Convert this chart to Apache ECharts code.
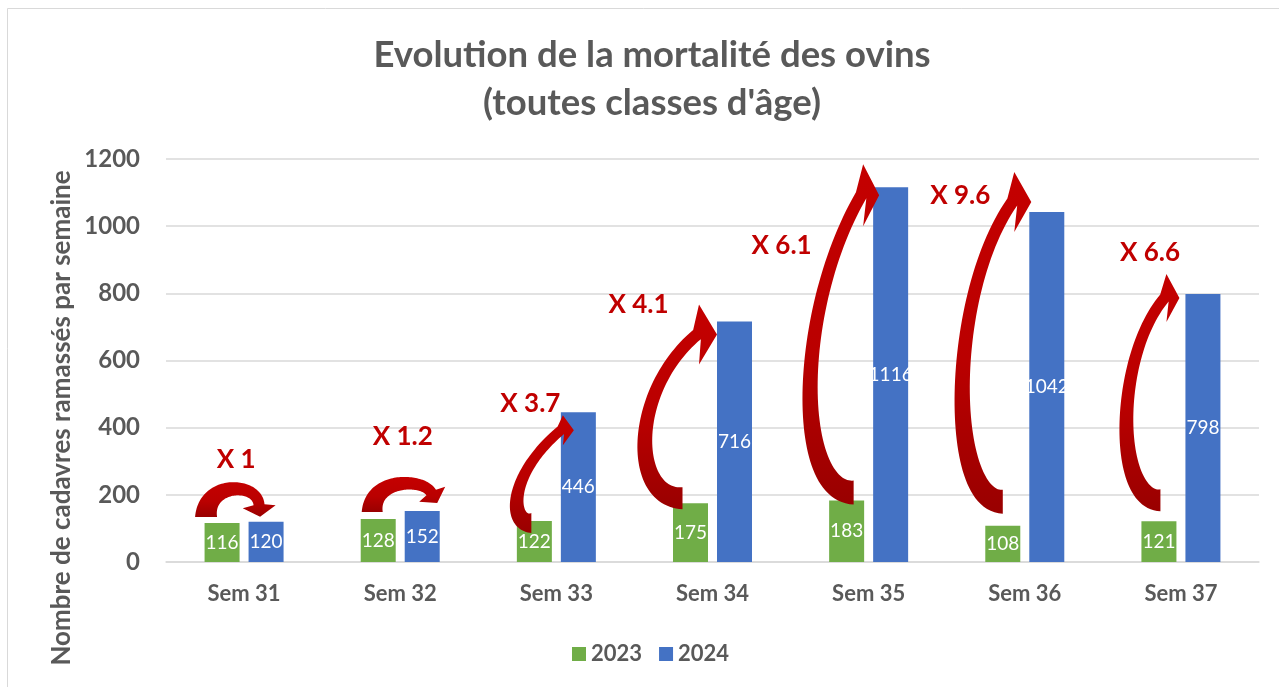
<!DOCTYPE html>
<html>
<head>
<meta charset="utf-8">
<script src="https://cdn.jsdelivr.net/npm/echarts@6/dist/echarts.min.js"></script>
<style>
  html, body { margin: 0; padding: 0; background: #ffffff; }
  #chart { width: 1279px; height: 687px; }
</style>
</head>
<body>
<div id="chart"></div>
<script>
// ---- data ----
const categories = ['Sem 31', 'Sem 32', 'Sem 33', 'Sem 34', 'Sem 35', 'Sem 36', 'Sem 37'];
const deaths2023 = [116, 128, 122, 175, 183, 108, 121];
const deaths2024 = [120, 152, 446, 716, 1116, 1042, 798];
const ratioLabels = ['X 1', 'X 1.2', 'X 3.7', 'X 4.1', 'X 6.1', 'X 9.6', 'X 6.6'];
const seriesNames = ['2023', '2024'];
const yMin = 0, yMax = 1200, yStep = 200;

// ---- annotation layout (pixel offsets relative to the bars) ----
const arrowLayout = [
  { kind: 'arch', tail: [-16, -6], tip: [-6, -5], phi: 5, rise: 28, hw: 16.5, hl: 10, wTail: 22, wNeck: 11, label: [-8, -62] },
  { kind: 'arch', tail: [-6, -7], tip: [15, -8], phi: 30, rise: 28, hw: 15, hl: 10, wTail: 21, wNeck: 11, label: [2.5, -74] },
  { kind: 'c', tail: [-3, 2], tip: [13, 18], bulge: -1, theta: 40, hw: 15, hl: 11, wTail: 20, wNeck: 10, label: [-26, -9] },
  { kind: 'c', tail: [-8, -5], tip: [0, 13], bulge: 28, theta: 40, hw: 30, hl: 18, wTail: 22, wNeck: 12, label: [-74, -17] },
  { kind: 'c', tail: [7, -8], tip: [6, 8], bulge: 19, theta: 60, hw: 31, hl: 16, wTail: 24, wNeck: 12, label: [-87, 58] },
  { kind: 'c', tail: [0, -24], tip: [2, -10], bulge: 23, theta: 55, hw: 30, hl: 17, wTail: 24, wNeck: 12, label: [-64.5, -16] },
  { kind: 'c', tail: [1.5, -21], tip: [-6, 4], bulge: 15, theta: 50, hw: 24, hl: 13, wTail: 22, wNeck: 11, label: [-31, -41] }
];

const BAR_W = 35, BAR_GAP = 9;
const OFF = (BAR_W + BAR_GAP) / 2;
const FONT = 'Lato, "Open Sans", sans-serif';
const GREY = '#595959';

function bez(p, t) {
  const u = 1 - t;
  const a = u * u * u, b = 3 * u * u * t, c = 3 * u * t * t, d = t * t * t;
  return [a * p[0][0] + b * p[1][0] + c * p[2][0] + d * p[3][0],
          a * p[0][1] + b * p[1][1] + c * p[2][1] + d * p[3][1]];
}
function bezD(p, t) {
  const u = 1 - t;
  const x = 3 * u * u * (p[1][0] - p[0][0]) + 6 * u * t * (p[2][0] - p[1][0]) + 3 * t * t * (p[3][0] - p[2][0]);
  const y = 3 * u * u * (p[1][1] - p[0][1]) + 6 * u * t * (p[2][1] - p[1][1]) + 3 * t * t * (p[3][1] - p[2][1]);
  const l = Math.hypot(x, y) || 1;
  return [x / l, y / l];
}
function dist(a, b) { return Math.hypot(a[0] - b[0], a[1] - b[1]); }

function arrowPolygon(ctrl, wTail, wNeck, cornerA, tip, cornerB) {
  const n = 60, sa = [], sb = [];
  for (let k = 0; k <= n; k++) {
    const t = k / n;
    const p = bez(ctrl, t), d = bezD(ctrl, t);
    const nr = [-d[1], d[0]];
    const w = (wNeck + (wTail - wNeck) * (1 - t) * (1 - t)) / 2;
    sa.push([p[0] + nr[0] * w, p[1] + nr[1] * w]);
    sb.push([p[0] - nr[0] * w, p[1] - nr[1] * w]);
  }
  const ea = sa[n], eb = sb[n];
  let c1 = cornerA, c2 = cornerB;
  if (dist(ea, c1) + dist(eb, c2) > dist(ea, c2) + dist(eb, c1)) { c1 = cornerB; c2 = cornerA; }
  return sa.concat([c1, tip, c2], sb.reverse());
}

function renderArrow(params, api) {
  const i = api.value(0);
  const g = api.value(1), b = api.value(2);
  const L = arrowLayout[i];
  const base = api.coord([i, 0]);
  const cx = base[0];
  const gt = api.coord([i, g])[1];
  const bt = api.coord([i, b])[1];
  const gc = cx - OFF, bc = cx + OFF;
  const gl = gc - BAR_W / 2, bl = bc - BAR_W / 2;
  let ctrl, S, H, I;
  if (L.kind === 'arch') {
    const T = [gc + L.tail[0], gt + L.tail[1]];
    H = [bc + L.tip[0], bt + L.tip[1]];
    const ph = L.phi * Math.PI / 180;
    const d = [Math.sin(ph), Math.cos(ph)];
    const B = [H[0] - d[0] * L.hl, H[1] - d[1] * L.hl];
    const N = [B[0] - d[0] * 2, B[1] - d[1] * 2];
    const Y = (8 * (T[1] - L.rise) - T[1] - N[1]) / 6;
    const P1 = [T[0], Y];
    const P2 = [N[0] - Math.tan(ph) * (N[1] - Y), Y];
    ctrl = [T, P1, P2, N];
    const nr = [Math.cos(ph), -Math.sin(ph)];
    S = [B[0] + nr[0] * L.hw, B[1] + nr[1] * L.hw];
    I = [B[0] - nr[0] * L.hw, B[1] - nr[1] * L.hw];
  } else {
    const T = [gc + L.tail[0], gt + L.tail[1]];
    H = [bl + L.tip[0], bt + L.tip[1]];
    const B = [H[0] - L.hl, H[1]];
    const N = [B[0] - 2, B[1]];
    const Lm = gl - L.bulge;
    const Lc = (8 * Lm - T[0] - N[0]) / 6;
    const th = L.theta * Math.PI / 180;
    const P1 = [Lc, T[1]];
    const P2 = [Lc, N[1] + (N[0] - Lc) * Math.tan(th)];
    ctrl = [T, P1, P2, N];
    S = [B[0], B[1] - L.hw];
    I = [B[0], B[1] + L.hw];
  }
  const pts = arrowPolygon(ctrl, L.wTail, L.wNeck, S, H, I);
  const lx = cx + L.label[0], ly = bt + L.label[1];
  return {
    type: 'group',
    children: [
      {
        type: 'polygon',
        shape: { points: pts },
        style: {
          fill: new echarts.graphic.LinearGradient(0, 0, 0, 1, [
            { offset: 0, color: '#C40000' },
            { offset: 0.55, color: '#BA0000' },
            { offset: 1, color: '#990000' }
          ])
        }
      },
      {
        type: 'text',
        x: lx, y: ly,
        style: {
          text: ratioLabels[i],
          fill: '#C00000',
          font: 'bold 26px ' + FONT,
          align: 'center', verticalAlign: 'middle',
          textAlign: 'center', textVerticalAlign: 'middle'
        }
      }
    ]
  };
}

const chart = echarts.init(document.getElementById('chart'), null, { renderer: 'canvas' });
const labelStyle = { show: true, position: 'inside', color: '#ffffff', fontFamily: FONT, fontSize: 19, fontWeight: 'normal' };

chart.setOption({
  backgroundColor: '#ffffff',
  animation: false,
  title: {
    text: 'Evolution de la mortalité des ovins\n(toutes classes d\'âge)',
    left: 647, top: 26, textAlign: 'center',
    textStyle: { fontFamily: FONT, fontSize: 36.5, fontWeight: 'bold', color: GREY, lineHeight: 48 }
  },
  legend: {
    data: seriesNames,
    left: 567, top: 638,
    icon: 'rect', itemWidth: 14, itemHeight: 14, itemGap: 17,
    textStyle: { fontFamily: FONT, fontSize: 22, fontWeight: 'bold', color: GREY }
  },
  grid: { left: 166, right: 20, top: 159, bottom: 125, containLabel: false },
  xAxis: {
    type: 'category',
    data: categories,
    axisLine: { show: true, lineStyle: { color: '#d9d9d9', width: 1.5 } },
    axisTick: { show: false },
    axisLabel: { margin: 21, fontFamily: FONT, fontSize: 22, fontWeight: 'bold', color: GREY }
  },
  yAxis: {
    type: 'value',
    min: yMin, max: yMax, interval: yStep,
    axisLine: { show: false },
    axisTick: { show: false },
    splitLine: { lineStyle: { color: '#d9d9d9', width: 1.5 } },
    axisLabel: {
      margin: 26, fontFamily: FONT, fontSize: 24, fontWeight: 'bold', color: GREY,
      formatter: (v) => String(v)
    }
  },
  graphic: [
    {
      type: 'rect', silent: true, z: -10,
      shape: { x: 7.5, y: 8.5, width: 1300, height: 700 },
      style: { fill: 'none', stroke: '#d9d9d9', lineWidth: 1 }
    },
    {
      type: 'text', x: 62, y: 418, rotation: Math.PI / 2,
      style: {
        text: 'Nombre de cadavres ramassés par semaine',
        font: 'bold 26px ' + FONT, fill: GREY,
        align: 'center', verticalAlign: 'middle'
      }
    }
  ],
  series: [
    {
      name: seriesNames[0], type: 'bar', data: deaths2023,
      barWidth: BAR_W, barGap: (BAR_GAP / BAR_W * 100) + '%',
      itemStyle: { color: '#70AD47' }, label: labelStyle
    },
    {
      name: seriesNames[1], type: 'bar', data: deaths2024,
      barWidth: BAR_W,
      itemStyle: { color: '#4472C4' }, label: labelStyle
    },
    {
      name: 'ratio', type: 'custom', z: 5,
      renderItem: renderArrow,
      encode: { x: 0, y: [1, 2] },
      data: categories.map((c, i) => [i, deaths2023[i], deaths2024[i]]),
      tooltip: { show: false }
    }
  ]
});
</script>
</body>
</html>
